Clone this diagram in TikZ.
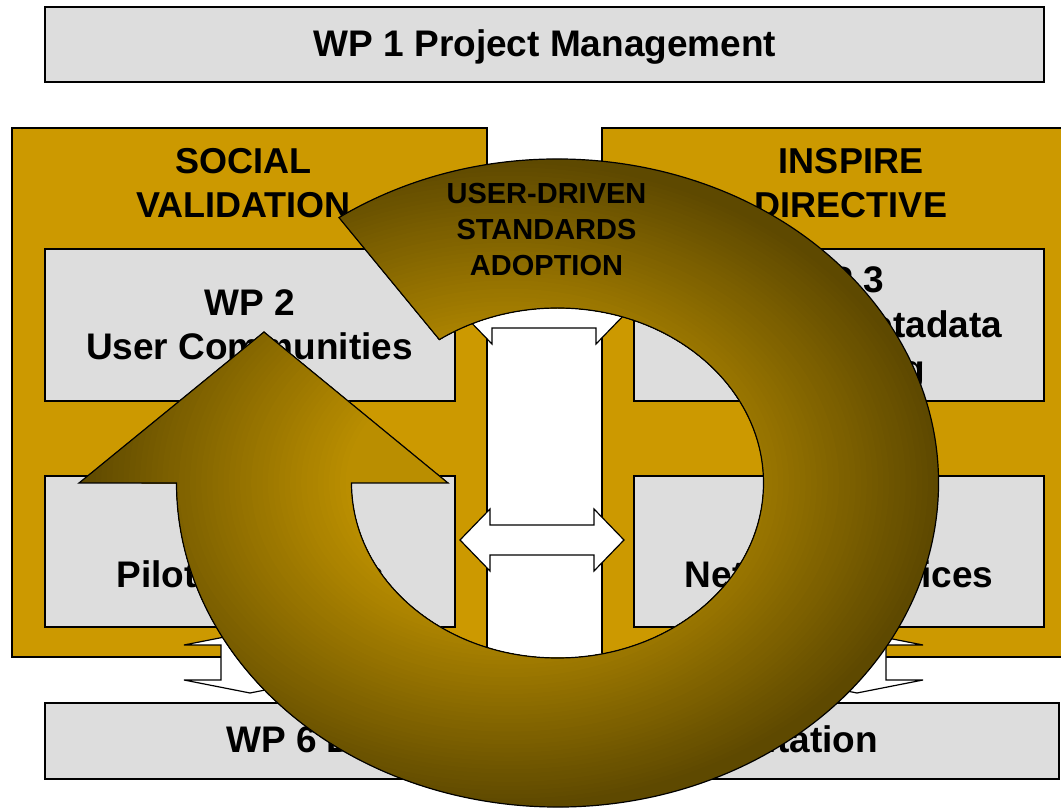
\documentclass[tikz,border=0pt]{standalone}
\usepackage{fontspec}
\setmainfont{Liberation Sans}
\definecolor{gold}{RGB}{204,153,0}
\definecolor{boxgray}{RGB}{221,221,221}
\definecolor{ringdark}{RGB}{94,73,0}
\definecolor{ringlight}{RGB}{186,142,0}
\tikzset{
  graybox/.style={rectangle, draw=black, line width=1.5pt, fill=boxgray, inner sep=0pt},
  goldbox/.style={rectangle, draw=black, line width=1.5pt, fill=gold, inner sep=0pt},
  wptext/.style={font=\fontsize{37}{44}\selectfont\bfseries, anchor=base, inner sep=0pt},
  headtext/.style={font=\fontsize{36}{44}\selectfont\bfseries, anchor=base, inner sep=0pt},
  ringtext/.style={font=\fontsize{29}{35}\selectfont\bfseries, anchor=base, inner sep=0pt},
  blockarrow/.style={draw=black, fill=white, line width=1.2pt, line join=miter},
  ringline/.style={draw=black, line width=1.2pt, line join=miter},
}
\newcommand\ringshape{(338.97,591.40) arc[start angle=125, end angle=-180, x radius=381pt, y radius=324pt]
  -- (79,326) -- (264,477) -- (448,326) -- (351.5,326)
  arc[start angle=-180, end angle=125, x radius=206pt, y radius=175pt] -- cycle}
\begin{document}
\begin{tikzpicture}[x=1pt,y=1pt]
\useasboundingbox (0,0) rectangle (1061,809);
\clip (0,0) rectangle (1061,809);
\fill[white] (0,0) rectangle (1061,809);

% gold section boxes
\node[goldbox, minimum width=475pt, minimum height=529pt] (social) at (249.5,416.5) {};
\node[goldbox, minimum width=488pt, minimum height=529pt] (inspire) at (846,416.5) {};

% work package boxes
\node[graybox, minimum width=999pt, minimum height=75pt] (wp1) at (544.5,764.5) {};
\node[graybox, minimum width=410pt, minimum height=152pt] (wp2) at (250,484) {};
\node[graybox, minimum width=410pt, minimum height=152pt] (wp3) at (839,484) {};
\node[graybox, minimum width=410pt, minimum height=151pt] (wp4) at (250,257.5) {};
\node[graybox, minimum width=410pt, minimum height=151pt] (wp5) at (839,257.5) {};
\node[graybox, minimum width=1014pt, minimum height=76pt] (wp6) at (552,68) {};

% texts
\node[wptext] (wp1t) at (545,752) {WP 1 Project Management};
\node[headtext] (socA) at (243.5,635) {SOCIAL};
\node[headtext] (socB) at (243.5,591) {VALIDATION};
\node[headtext] (insA) at (851,635) {INSPIRE};
\node[headtext] (insB) at (851,591) {DIRECTIVE};
\node[wptext] (wp2a) at (249.5,493) {WP 2};
\node[wptext] (wp2b) at (249.5,449) {User Communities};
\node[wptext] (wp3a) at (839,516) {WP 3};
\node[wptext] (wp3b) at (839,471) {Data and Metadata};
\node[wptext] (wp3c) at (839,427) {Modelling};
\node[wptext] (wp4a) at (250,266) {WP 4};
\node[wptext] (wp4b) at (250,221) {Pilot Scenarios};
\node[wptext] (wp5a) at (839,266) {WP 5};
\node[wptext] (wp5b) at (839,221) {Network Services};
\node[wptext] (wp6t) at (552,56) {WP 6 Dissemination and Exploitation};

% white block connectors
\coordinate (topL) at (462,496);
\coordinate (midL) at (460,269);
\coordinate (vL) at (250,177);
\coordinate (vR) at (857,177);
\draw[blockarrow] (topL) -- ++(30,31) -- ++(0,-16) -- ++(104,0) -- ++(0,16) -- ++(30,-31)
  -- ++(-30,-31) -- ++(0,16) -- ++(-104,0) -- ++(0,-16) -- cycle;
\draw[blockarrow] (midL) -- ++(30,31) -- ++(0,-16) -- ++(104,0) -- ++(0,16) -- ++(30,-31)
  -- ++(-30,-31) -- ++(0,16) -- ++(-104,0) -- ++(0,-16) -- cycle;
\draw[blockarrow] (vL) -- ++(66,-13) -- ++(-37,0) -- ++(0,-35) -- ++(37,0) -- ++(-66,-13)
  -- ++(-66,13) -- ++(37,0) -- ++(0,35) -- ++(-37,0) -- cycle;
\draw[blockarrow] (vR) -- ++(66,-13) -- ++(-37,0) -- ++(0,-35) -- ++(37,0) -- ++(-66,-13)
  -- ++(-66,13) -- ++(37,0) -- ++(0,35) -- ++(-37,0) -- cycle;

% circular arrow with shading
\begin{scope}
  \clip \ringshape;
  \fill[ringdark] (60,0) rectangle (960,820);
  \foreach \k in {0,...,48} {
    \pgfmathsetmacro\rr{1.0-0.62*\k/48}
    \pgfmathsetmacro\pp{100*\k/48}
    \pgfmathsetmacro\rx{430*\rr}
    \pgfmathsetmacro\ry{324*\rr}
    \fill[ringlight!\pp!ringdark] (509,326) ellipse (\rx pt and \ry pt);
  }
\end{scope}
\draw[ringline] \ringshape;

\node[ringtext] (udA) at (546.5,605) {USER-DRIVEN};
\node[ringtext] (udB) at (546.5,569) {STANDARDS};
\node[ringtext] (udC) at (546.5,533) {ADOPTION};
\end{tikzpicture}
\end{document}
